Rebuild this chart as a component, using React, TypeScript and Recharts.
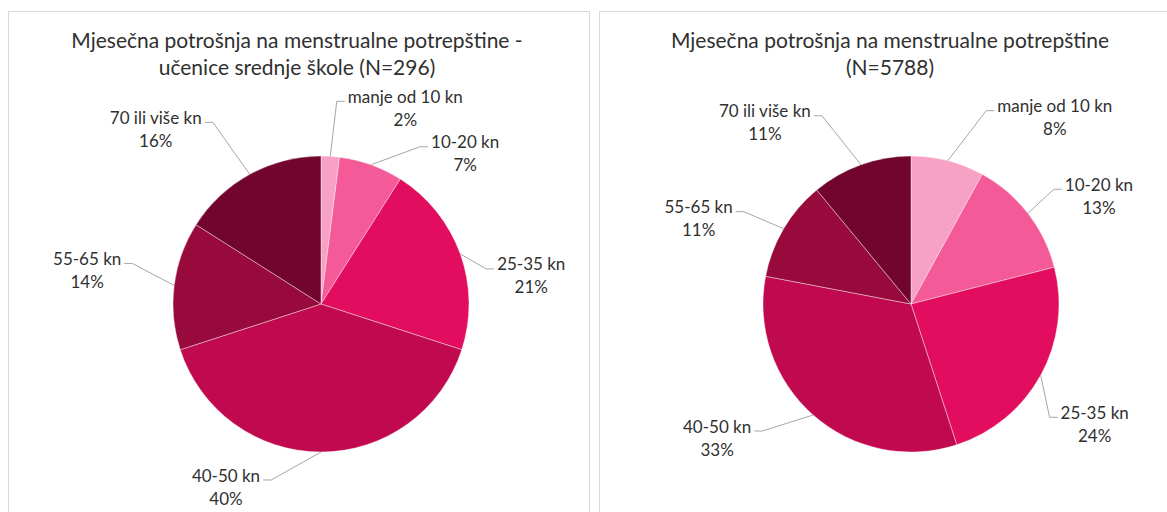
import { PieChart, Pie, Cell } from "recharts"

const categories = [
  "manje od 10 kn",
  "10-20 kn",
  "25-35 kn",
  "40-50 kn",
  "55-65 kn",
  "70 ili više kn",
]
const schoolShares = [2, 7, 21, 40, 14, 16]
const allShares = [8, 13, 24, 33, 11, 11]
const schoolTitle = [
  "Mjesečna potrošnja na menstrualne potrepštine -",
  "učenice srednje škole (N=296)",
]
const allTitle = ["Mjesečna potrošnja na menstrualne potrepštine", "(N=5788)"]

const sliceColors = ["#F7A1C4", "#F45A97", "#E20D5F", "#C0094E", "#980A3C", "#72052E"]

// label block offsets from the slice's edge point: [dx to centre, dy to first line]
const schoolNudges = [[75, -60], [94, -23], [71, 10], [-95, 23], [-87, -27], [-94, -57]]
const allNudges = [[107, -55], [71, -29], [54, 37], [-96, 11], [-85, -22], [-96, -54]]

const FONT = "Lato, 'Open Sans', sans-serif"
const LABEL_SIZE = 17
const TEXT = "#303030"
const RAD = Math.PI / 180

const schoolData = categories.map((name, i) => ({ name, value: schoolShares[i] }))
const allData = categories.map((name, i) => ({ name, value: allShares[i] }))

let ctx: CanvasRenderingContext2D | null = null
function textWidth(s: string) {
  if (!ctx) ctx = document.createElement("canvas").getContext("2d")
  if (!ctx) return s.length * 8.5
  ctx.font = `${LABEL_SIZE}px Lato`
  return ctx.measureText(s).width
}

function makeLabel(nudges: number[][]) {
  return (props: any) => {
    const { cx, cy, midAngle, outerRadius, index, name, value } = props
    const a = -midAngle * RAD
    const ex = cx + outerRadius * Math.cos(a)
    const ey = cy + outerRadius * Math.sin(a)
    const [dx, dy] = nudges[index]
    const tx = ex + dx
    const ty = ey + dy
    const w = textWidth(name)
    const right = dx > 0
    const edge = right ? tx - w / 2 - 3 : tx + w / 2 + 3
    const elbow = right ? edge - 8 : edge + 8
    const ly = ty + 5
    return (
      <g>
        <polyline
          points={`${ex},${ey} ${elbow},${ly} ${edge},${ly}`}
          fill="none"
          stroke="#A6A6A6"
          strokeWidth={1}
        />
        <text x={tx} y={ty} textAnchor="middle" dominantBaseline="central" fill={TEXT} fontSize={LABEL_SIZE} fontFamily={FONT}>
          {name}
        </text>
        <text x={tx} y={ty + 23} textAnchor="middle" dominantBaseline="central" fill={TEXT} fontSize={LABEL_SIZE} fontFamily={FONT}>
          {`${value}%`}
        </text>
      </g>
    )
  }
}

function Title({ lines, center }: { lines: string[]; center: number }) {
  return (
    <div
      style={{
        position: "absolute",
        left: center - 300,
        width: 600,
        top: 26,
        textAlign: "center",
        fontFamily: FONT,
        fontSize: 21,
        lineHeight: "27px",
        color: TEXT,
      }}
    >
      {lines.map((l) => (
        <div key={l}>{l}</div>
      ))}
    </div>
  )
}

export default function App() {
  return (
    <div style={{ position: "absolute", left: 0, top: 0, width: 1167, height: 512, overflow: "hidden", background: "#fff" }}>
      <div style={{ position: "absolute", left: 8, top: 11, width: 580, height: 540, border: "1px solid #D9D9D9" }} />
      <div style={{ position: "absolute", left: 599, top: 11, width: 600, height: 540, border: "1px solid #D9D9D9" }} />
      <Title lines={schoolTitle} center={297} />
      <Title lines={allTitle} center={890} />
      <div style={{ position: "absolute", left: 0, top: 0 }}>
        <PieChart width={1167} height={512} margin={{ top: 0, right: 0, bottom: 0, left: 0 }}>
          <Pie
            data={schoolData}
            dataKey="value"
            nameKey="name"
            cx={321}
            cy={304}
            outerRadius={148}
            startAngle={90}
            endAngle={-270}
            stroke="#ffffff"
            strokeWidth={0.4}
            label={makeLabel(schoolNudges)}
            labelLine={false}
            isAnimationActive={false}
          >
            {schoolData.map((d, i) => (
              <Cell key={d.name} fill={sliceColors[i]} />
            ))}
          </Pie>
          <Pie
            data={allData}
            dataKey="value"
            nameKey="name"
            cx={911}
            cy={304}
            outerRadius={148}
            startAngle={90}
            endAngle={-270}
            stroke="#ffffff"
            strokeWidth={0.4}
            label={makeLabel(allNudges)}
            labelLine={false}
            isAnimationActive={false}
          >
            {allData.map((d, i) => (
              <Cell key={d.name} fill={sliceColors[i]} />
            ))}
          </Pie>
        </PieChart>
      </div>
    </div>
  )
}
